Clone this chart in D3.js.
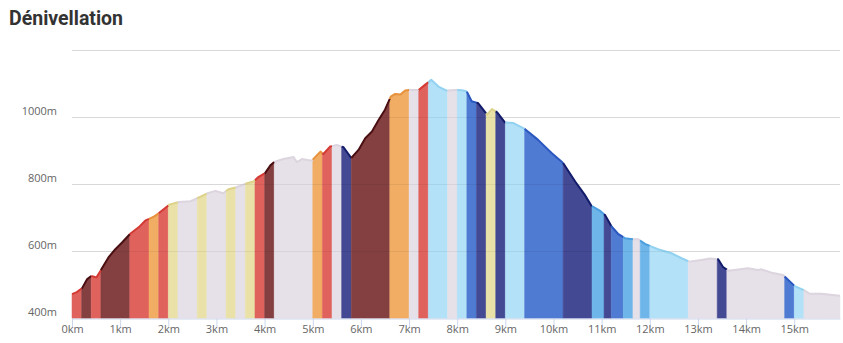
<!DOCTYPE html>
<html><head><meta charset="utf-8">
<script src="https://cdn.jsdelivr.net/npm/d3@7/dist/d3.min.js"></script>
<style>
html,body{margin:0;padding:0;background:#fff;}
svg{display:block;}
</style></head>
<body>
<svg id="c" width="843" height="343"></svg>
<script>
// Elevation profile (km, m)
const distKm = [0.00,0.10,0.21,0.31,0.40,0.51,0.61,0.76,0.90,1.04,1.21,1.39,1.52,1.70,1.80,2.02,2.22,2.46,2.56,2.67,2.80,2.98,3.14,3.25,3.40,3.60,3.77,3.87,4.01,4.12,4.21,4.39,4.60,4.67,4.78,4.98,5.10,5.16,5.22,5.36,5.50,5.64,5.80,5.95,6.09,6.23,6.37,6.50,6.62,6.71,6.82,6.92,7.02,7.20,7.33,7.46,7.61,7.78,7.96,8.10,8.20,8.30,8.43,8.54,8.62,8.72,8.83,8.99,9.17,9.41,9.68,9.96,10.20,10.45,10.65,10.79,10.96,11.07,11.21,11.34,11.48,11.65,11.76,11.90,12.17,12.45,12.66,12.82,13.07,13.25,13.42,13.52,13.63,14.04,14.25,14.32,14.53,14.77,15.01,15.20,15.32,15.56,15.95];
const elevM = [472,478,490,516,526,522,546,582,606,626,652,672,691,703,713,739,747,749,755,763,772,780,773,785,790,801,808,821,833,856,867,875,881,866,875,870,888,897,890,912,917,910,878,902,937,957,992,1022,1061,1069,1067,1079,1081,1081,1096,1111,1091,1079,1081,1080,1076,1047,1042,1022,1007,1024,1014,984,982,964,932,893,863,808,768,735,721,708,673,652,639,636,636,622,606,594,579,569,574,578,576,553,542,549,544,546,536,529,496,484,473,473,467];

// Slope-colour segments: start km and class
const segStart = [0,0.2,0.4,0.6,1.2,1.6,1.8,2.0,2.2,2.6,2.8,3.2,3.4,3.6,3.8,4.0,4.2,5.0,5.2,5.4,5.6,5.8,6.6,7.0,7.2,7.4,7.8,8.0,8.2,8.4,8.6,8.8,9.0,9.4,10.2,10.8,11.05,11.2,11.45,11.65,11.8,12.0,12.8,13.4,13.6,14.8,15.0,15.2];
const segClass = ["red","maroon","red","maroon","red","orange","red","yellow","lavender","yellow","lavender","yellow","lavender","yellow","red","maroon","lavender","orange","red","lavender","navy","maroon","orange","lavender","red","lightblue","lavender","lightblue","blue","navy","yellow","navy","lightblue","blue","navy","medblue","navy","blue","medblue","lavender","medblue","lightblue","lavender","navy","lavender","blue","lightblue","lavender"];

const xTicks = d3.range(0,16);
const yTicks = [400,600,800,1000];
const yGrid = [600,800,1000,1200];

const fillColor = {red:"#e0625d",maroon:"#843f40",orange:"#f0ad63",yellow:"#e9e1a8",lavender:"#e6e0e8",lightblue:"#b2e1f8",medblue:"#6eb6ea",blue:"#4f7bd2",navy:"#434993"};
const lineColor = {red:"#d33a34",maroon:"#4a0f12",orange:"#e8913d",yellow:"#ddd28a",lavender:"#dcd4de",lightblue:"#92d2f0",medblue:"#4a9edf",blue:"#2a58c0",navy:"#121c6a"};

const svg = d3.select("#c");
const x = d3.scaleLinear().domain([0,15.95]).range([72,840]);
const y = d3.scaleLinear().domain([400,1200]).range([318.3,50]);

// title
svg.append("text").attr("x",9).attr("y",25)
  .attr("font-family","Roboto, sans-serif").attr("font-weight",700).attr("font-size",19.5)
  .attr("fill","#333").text("Dénivellation");

// grid
svg.append("g").selectAll("line").data(yGrid).join("line")
  .attr("x1",72).attr("x2",840).attr("y1",d=>Math.round(y(d))+0.5).attr("y2",d=>Math.round(y(d))+0.5)
  .attr("stroke","#e6e6e6").attr("stroke-width",1);

const pts = distKm.map((d,i)=>({d, e:elevM[i]}));
function interp(k){
  for(let i=1;i<pts.length;i++){
    if(pts[i].d>=k){
      const a=pts[i-1], b=pts[i];
      const t=(k-a.d)/(b.d-a.d);
      return {d:k, e:a.e+t*(b.e-a.e)};
    }
  }
  return pts[pts.length-1];
}
const area = d3.area().x(p=>x(p.d)).y0(y(400)).y1(p=>y(p.e));
const line = d3.line().x(p=>x(p.d)).y(p=>y(p.e));

const segs = segStart.map((s,i)=>{
  const eKm = i<segStart.length-1 ? segStart[i+1] : distKm[distKm.length-1];
  const p = [interp(s)].concat(pts.filter(q=>q.d>s && q.d<eKm)).concat([interp(eKm)]);
  return {cls:segClass[i], p};
});

const gA = svg.append("g");
gA.selectAll("path.a").data(segs).join("path").attr("class","a")
  .attr("d",s=>area(s.p)).attr("fill",s=>fillColor[s.cls])
  .attr("stroke",s=>fillColor[s.cls]).attr("stroke-width",0.5);
gA.selectAll("path.l").data(segs).join("path").attr("class","l")
  .attr("d",s=>line(s.p)).attr("fill","none").attr("stroke",s=>lineColor[s.cls])
  .attr("stroke-width",2).attr("stroke-linejoin","round");

// faint grid over the areas
svg.append("g").selectAll("line").data(yGrid).join("line")
  .attr("x1",72).attr("x2",840).attr("y1",d=>Math.round(y(d))+0.5).attr("y2",d=>Math.round(y(d))+0.5)
  .attr("stroke","#000").attr("stroke-opacity",0.06).attr("stroke-width",1);

// x axis
const xa = svg.append("g").attr("transform","translate(0,318.5)")
  .call(d3.axisBottom(x).tickValues(xTicks).tickSize(9).tickSizeOuter(0).tickPadding(4).tickFormat(d=>d+"km"));
xa.select(".domain").attr("stroke","#ccd6eb");
xa.selectAll(".tick line").attr("stroke","#ccd6eb");
xa.selectAll("text").attr("fill","#666").attr("font-family","'Open Sans', sans-serif").attr("font-size",11).attr("dy","0.62em").attr("y",8);

// y labels
svg.append("g").selectAll("text").data(yTicks).join("text")
  .attr("x",57).attr("y",d=>y(d)-2).attr("text-anchor","end")
  .attr("fill","#666").attr("font-family","'Open Sans', sans-serif").attr("font-size",11)
  .text(d=>d+"m");
</script>
</body></html>
